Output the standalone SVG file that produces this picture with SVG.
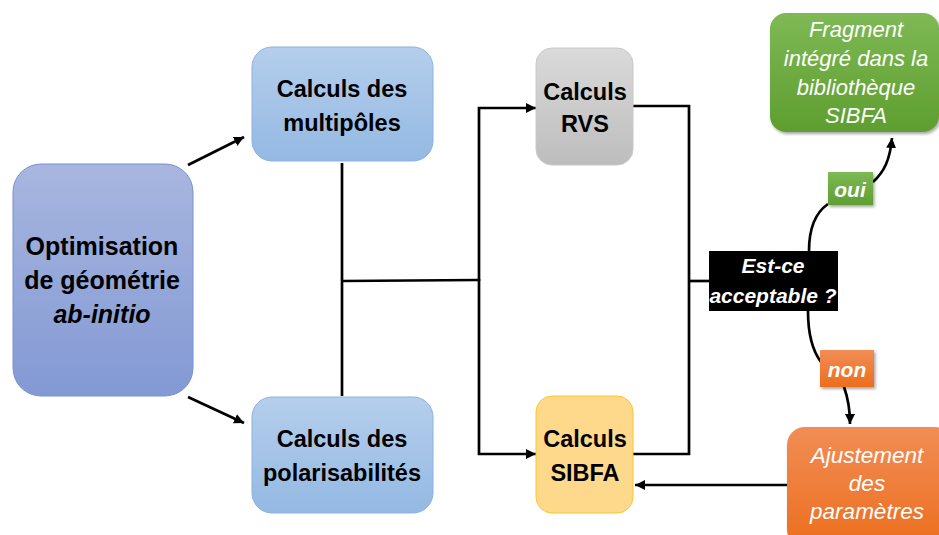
<svg xmlns="http://www.w3.org/2000/svg" width="939" height="535" viewBox="0 0 939 535">
  <defs>
    <linearGradient id="gLeft" x1="0" y1="0" x2="0" y2="1">
      <stop offset="0" stop-color="#A8B6DF"/>
      <stop offset="1" stop-color="#8399D4"/>
    </linearGradient>
    <linearGradient id="gBlue" x1="0" y1="0" x2="0" y2="1">
      <stop offset="0" stop-color="#B5CEEC"/>
      <stop offset="1" stop-color="#94B9E3"/>
    </linearGradient>
    <linearGradient id="gGray" x1="0" y1="0" x2="0" y2="1">
      <stop offset="0" stop-color="#DADADA"/>
      <stop offset="1" stop-color="#BDBDBD"/>
    </linearGradient>
    <linearGradient id="gGreen" x1="0" y1="0" x2="0" y2="1">
      <stop offset="0" stop-color="#7EB955"/>
      <stop offset="1" stop-color="#5E9E2F"/>
    </linearGradient>
    <linearGradient id="gOrange" x1="0" y1="0" x2="0" y2="1">
      <stop offset="0" stop-color="#F18D55"/>
      <stop offset="1" stop-color="#EC6E1E"/>
    </linearGradient>
    <filter id="shadow" x="-10%" y="-10%" width="130%" height="130%">
      <feDropShadow dx="1.5" dy="2" stdDeviation="1.5" flood-color="#000" flood-opacity="0.35"/>
    </filter>
    <marker id="arrow" markerUnits="userSpaceOnUse" markerWidth="12" markerHeight="10" refX="10" refY="5" orient="auto">
      <path d="M0,0 L10,5 L0,10 Z" fill="#000"/>
    </marker>
    <style>
      .bold { font-family: "Liberation Sans", Arial, sans-serif; font-weight: bold; fill: #000; text-anchor: middle; }
      .wit { font-family: "Liberation Sans", Arial, sans-serif; font-style: italic; fill: #fff; text-anchor: middle; }
      .wbi { font-family: "Liberation Sans", Arial, sans-serif; font-style: italic; font-weight: bold; fill: #fff; text-anchor: middle; }
      .line { fill: none; stroke: #000; stroke-width: 2.7; }
      .arr { fill: none; stroke: #000; stroke-width: 2.7; marker-end: url(#arrow); }
    </style>
  </defs>

  <g id="connectors">
    <path class="arr" d="M188 165 L244 137"/>
    <path class="arr" d="M188 397 L244 423"/>
    <path class="line" d="M342 163 V396"/>
    <path class="line" d="M342 281 L479 280"/>
    <path class="arr" d="M479 281 V108 H536"/>
    <path class="arr" d="M479 279 V454 H536"/>
    <path class="line" d="M633 106 H689 V454 H633"/>
    <path class="line" d="M689 281 H710"/>
    <path class="arr" d="M787 485 H635"/>
    <path class="line" d="M809 251 C809 228 815 213 828 204"/>
    <path class="arr" d="M873 182 C884 172 890 160 892 138"/>
    <path class="line" d="M808 311 C808 333 812 350 821 362"/>
    <path class="arr" d="M844 387 C848 398 850 410 850 424"/>
  </g>

  <g id="node-optimisation">
    <rect x="13" y="164" width="180" height="232" rx="28" fill="url(#gLeft)" stroke="#7890D0" stroke-width="1"/>
    <text class="bold" x="102" y="255" font-size="25">Optimisation</text>
    <text class="bold" x="102" y="289" font-size="25">de géométrie</text>
    <text class="bold" x="102" y="323" font-size="25" font-style="italic">ab-initio</text>
  </g>

  <g id="node-multipoles">
    <rect x="252" y="47" width="181" height="114" rx="20" fill="url(#gBlue)" stroke="#8DB2E0" stroke-width="1"/>
    <text class="bold" x="342" y="97" font-size="23.5">Calculs des</text>
    <text class="bold" x="342" y="131" font-size="23.5">multipôles</text>
  </g>

  <g id="node-polarisabilites">
    <rect x="252" y="397" width="181" height="116" rx="20" fill="url(#gBlue)" stroke="#8DB2E0" stroke-width="1"/>
    <text class="bold" x="342" y="447" font-size="23.5">Calculs des</text>
    <text class="bold" x="342" y="481" font-size="23.5">polarisabilités</text>
  </g>

  <g id="node-rvs">
    <rect x="536" y="48" width="97" height="117" rx="16" fill="url(#gGray)" stroke="#C8C8C8" stroke-width="1"/>
    <text class="bold" x="585" y="100" font-size="23.5">Calculs</text>
    <text class="bold" x="585" y="132" font-size="23.5">RVS</text>
  </g>

  <g id="node-sibfa">
    <rect x="536" y="396" width="97" height="117" rx="16" fill="#FFD98B" stroke="#FFC526" stroke-width="1"/>
    <text class="bold" x="585" y="447" font-size="23.5">Calculs</text>
    <text class="bold" x="585" y="481" font-size="23.5">SIBFA</text>
  </g>

  <g id="node-acceptable">
    <rect x="709" y="251" width="129" height="60" fill="#000"/>
    <text class="wbi" x="773" y="273" font-size="21">Est-ce</text>
    <text class="wbi" x="773" y="303" font-size="21">acceptable ?</text>
  </g>

  <g id="node-fragment">
    <rect x="770" y="13" width="169" height="119" rx="16" fill="url(#gGreen)" filter="url(#shadow)"/>
    <text class="wit" x="856" y="37" font-size="22">Fragment</text>
    <text class="wit" x="856" y="66" font-size="22">intégré dans la</text>
    <text class="wit" x="856" y="95" font-size="22">bibliothèque</text>
    <text class="wit" x="856" y="123" font-size="22">SIBFA</text>
  </g>

  <g id="label-oui">
    <rect x="828" y="172" width="45" height="33" fill="url(#gGreen)" filter="url(#shadow)"/>
    <text class="wbi" x="850" y="197" font-size="21">oui</text>
  </g>

  <g id="label-non">
    <rect x="820" y="350" width="54" height="37" fill="url(#gOrange)" filter="url(#shadow)"/>
    <text class="wbi" x="847" y="377" font-size="21">non</text>
  </g>

  <g id="node-ajustement">
    <rect x="787" y="427" width="165" height="120" rx="18" fill="url(#gOrange)" filter="url(#shadow)"/>
    <text class="wit" x="867" y="463" font-size="22.5">Ajustement</text>
    <text class="wit" x="867" y="491" font-size="22.5">des</text>
    <text class="wit" x="867" y="519" font-size="22.5">paramètres</text>
  </g>
</svg>
